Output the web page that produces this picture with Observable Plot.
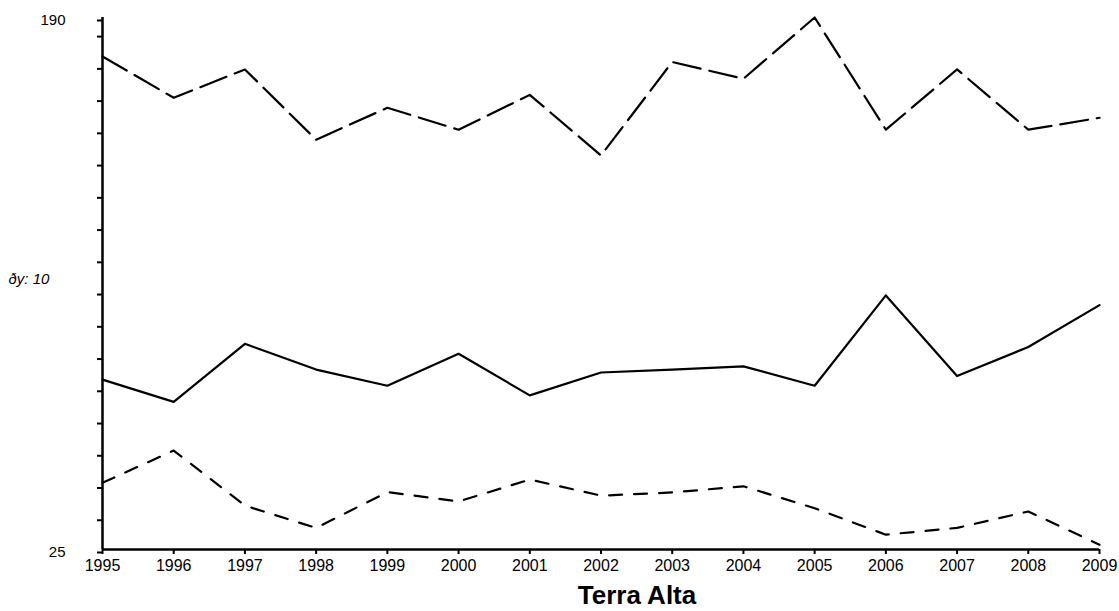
<!DOCTYPE html>
<html>
<head>
<meta charset="utf-8">
<script src="https://cdn.jsdelivr.net/npm/d3@7"></script>
<script src="https://cdn.jsdelivr.net/npm/@observablehq/plot@0.6"></script>
<style>
  html, body { margin: 0; padding: 0; background: #fff; }
  body { font-family: "Liberation Sans", Arial, sans-serif; width: 1119px; height: 611px; overflow: hidden; }
  #title { width: 1119px; box-sizing: border-box; padding-left: 155px; padding-top: 2px; text-align: center;
           font-size: 26px; font-weight: bold; line-height: 30px; color: #000; }
</style>
</head>
<body>
<div id="chart"></div>
<div id="title"></div>
<script>
const years = [1995, 1996, 1997, 1998, 1999, 2000, 2001, 2002, 2003, 2004, 2005, 2006, 2007, 2008, 2009];
const seriesTop = [177.9, 165.1, 173.9, 152.1, 162.0, 155.2, 166.0, 147.2, 176.2, 171.0, 190.0, 155.2, 173.9, 155.2, 158.9];
const seriesMid = [77.7, 70.8, 88.8, 80.8, 75.8, 85.7, 72.8, 79.9, 80.8, 81.8, 75.8, 103.8, 78.8, 87.8, 100.8];
const seriesLow = [45.7, 55.7, 38.6, 31.7, 42.8, 39.9, 46.7, 41.7, 42.7, 44.6, 37.8, 29.6, 31.7, 36.8, 26.5];
const yTicks = [25, 35, 45, 55, 65, 75, 85, 95, 105, 115, 125, 135, 145, 155, 165, 175, 185, 190];
const yLabeled = [25, 190];
const yNote = "ðy: 10";
const titleText = "Terra Alta";

const rows = (vals) => years.map((year, i) => ({year, value: vals[i]}));

const W = 1119, H = 578;
const chart = Plot.plot({
  width: W,
  height: H,
  marginLeft: 102,
  marginRight: 20,
  marginTop: 17,
  marginBottom: H - 549,
  style: {fontFamily: '"Liberation Sans", Arial, sans-serif', fontSize: "16px", color: "#000", background: "#fff"},
  x: {domain: [years[0], years[years.length - 1]]},
  y: {domain: [25, 190]},
  marks: [
    Plot.axisX(years, {tickSize: 5, tickPadding: 5, strokeWidth: 2, tickFormat: d => String(d), fontSize: 16, label: null}),
    Plot.axisY(yTicks, {tickSize: 5, tickPadding: 32, strokeWidth: 2, dy: 3, fontSize: 15,
      tickFormat: d => yLabeled.includes(d) ? String(d) : "", label: null}),
    Plot.ruleX([years[0]], {y1: 25, y2: 190, stroke: "#000", strokeWidth: 2.5}),
    Plot.ruleY([25], {x1: years[0], x2: years[years.length - 1], stroke: "#000", strokeWidth: 2.5}),
    Plot.line(rows(seriesTop), {x: "year", y: "value", stroke: "#000", strokeWidth: 2.2, strokeDasharray: "28,9"}),
    Plot.line(rows(seriesMid), {x: "year", y: "value", stroke: "#000", strokeWidth: 2.2}),
    Plot.line(rows(seriesLow), {x: "year", y: "value", stroke: "#000", strokeWidth: 2.2, strokeDasharray: "13,12"}),
    Plot.text([yNote], {frameAnchor: "left", dx: -94, dy: -4, textAnchor: "start", fontStyle: "italic", fontSize: 15, fill: "#000"})
  ]
});
document.getElementById("chart").appendChild(chart);
document.getElementById("title").textContent = titleText;
</script>
</body>
</html>
